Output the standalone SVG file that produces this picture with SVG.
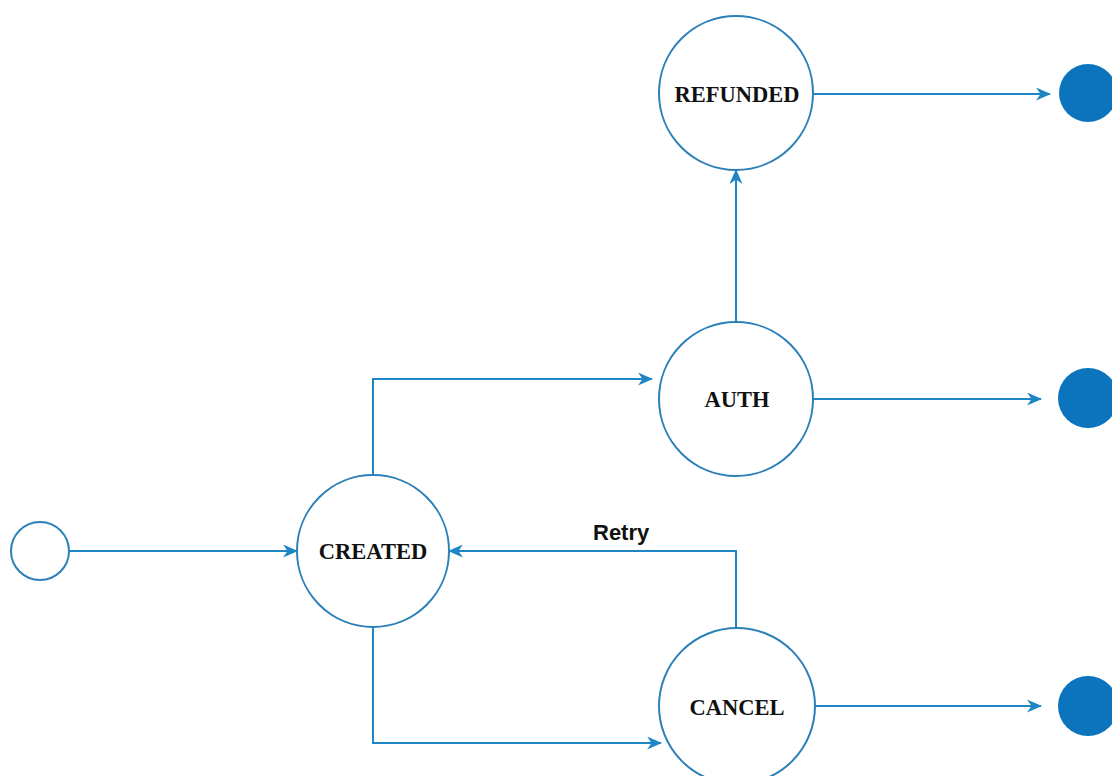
<svg xmlns="http://www.w3.org/2000/svg" width="1112" height="776" viewBox="0 0 1112 776">
  <style>
    .state { fill: #ffffff; stroke: #2b80b9; stroke-width: 2; }
    .final { fill: #0b74bd; stroke: none; }
    .edge { fill: none; stroke: #1f86c6; stroke-width: 2; }
    .label { font-family: "Liberation Serif", "Times New Roman", serif; font-weight: bold; font-size: 22.5px; fill: #111111; text-anchor: middle; }
    .elabel { font-family: "Liberation Sans", Arial, sans-serif; font-weight: bold; font-size: 22px; fill: #111111; }
  </style>
  <defs>
    <marker id="arrow" viewBox="0 0 15 13" refX="14" refY="6.5" markerWidth="15" markerHeight="13" markerUnits="userSpaceOnUse" orient="auto">
      <path d="M0,0 L15,6.5 L0,13 L4.5,6.5 Z" fill="#1f86c6"/>
    </marker>
  </defs>
  <rect width="1112" height="776" fill="#ffffff"/>

  <!-- connectors -->
  <g id="connectors">
    <path class="edge" d="M69,551 L297,551" marker-end="url(#arrow)"/>
    <path class="edge" d="M373,475 L373,379 L652,379" marker-end="url(#arrow)"/>
    <path class="edge" d="M373,628 L373,743 L661,743" marker-end="url(#arrow)"/>
    <path class="edge" d="M736,322 L736,170" marker-end="url(#arrow)"/>
    <path class="edge" d="M736,628 L736,551 L449,551" marker-end="url(#arrow)"/>
    <path class="edge" d="M813,94 L1050,94" marker-end="url(#arrow)"/>
    <path class="edge" d="M813,399 L1041,399" marker-end="url(#arrow)"/>
    <path class="edge" d="M815,706 L1041,706" marker-end="url(#arrow)"/>
    <text class="elabel" x="593" y="540">Retry</text>
  </g>

  <!-- initial state -->
  <g id="start">
    <circle class="state" cx="40" cy="551" r="29"/>
  </g>

  <g id="created">
    <circle class="state" cx="373" cy="551" r="76"/>
    <text class="label" x="373" y="559">CREATED</text>
  </g>

  <g id="auth">
    <circle class="state" cx="736" cy="399" r="77"/>
    <text class="label" x="737" y="407">AUTH</text>
  </g>

  <g id="refunded">
    <circle class="state" cx="736" cy="93" r="77"/>
    <text class="label" x="737" y="102">REFUNDED</text>
  </g>

  <g id="cancel">
    <circle class="state" cx="737" cy="706" r="78"/>
    <text class="label" x="737" y="715">CANCEL</text>
  </g>

  <!-- final states -->
  <g id="end-refunded">
    <circle class="final" cx="1088" cy="93" r="29"/>
  </g>
  <g id="end-auth">
    <circle class="final" cx="1088" cy="398" r="30"/>
  </g>
  <g id="end-cancel">
    <circle class="final" cx="1088" cy="706" r="30"/>
  </g>
</svg>
